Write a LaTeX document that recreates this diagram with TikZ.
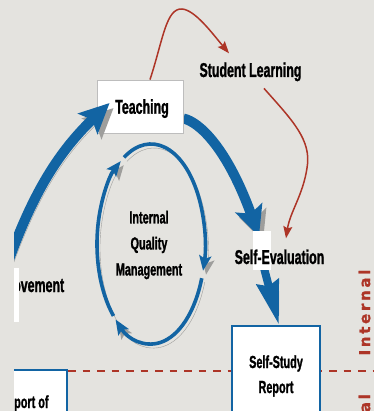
\documentclass[tikz,border=0pt]{standalone}
\usepackage{fontspec}
\usetikzlibrary{arrows.meta}
\usetikzlibrary{calc}
\newfontfamily\slidefont[FakeStretch=0.62,FakeBold=1.2]{Liberation Sans}
\newfontfamily\sidefont[LetterSpace=18,FakeBold=1]{DejaVu Sans}
\definecolor{QAblue}{HTML}{1264A3}
\definecolor{QAred}{HTML}{AD3527}
\definecolor{QApaper}{HTML}{E4E3DF}
\definecolor{QAshadow}{HTML}{9E9E9C}
\definecolor{QAframe}{HTML}{BDBDBD}
\pgfdeclarelayer{background}
\pgfsetlayers{background,main}

\tikzset{
  shadowed/.style={preaction={draw=QAshadow, transform canvas={shift={(#1)}}}},
  bigflow/.style={draw=QAblue, line width=10pt, -{Stealth[length=30pt,width=28pt,inset=6pt]}, shadowed={4,5}},
  ringflow/.style={draw=QAblue, line width=3.6pt, -{Stealth[length=15pt,width=12pt,inset=3pt]}, shadowed={3,4}},
  learnflow/.style={draw=QAred, line width=1.5pt, -{Stealth[length=12pt,width=9pt,inset=2pt]}},
  slidetext/.style={font=\slidefont\bfseries\fontsize{20pt}{24pt}\selectfont, inner sep=2pt},
  boxtext/.style={font=\slidefont\bfseries\fontsize{17.5pt}{#1}\selectfont, inner sep=2pt, align=center},
  flowbox/.style={draw=QAframe, line width=0.8pt, fill=white},
  studybox/.style={draw=QAblue, line width=2pt, fill=white},
  sidelabel/.style={font=\sidefont\bfseries\fontsize{15pt}{18pt}\selectfont, text=QAred, inner sep=0pt, rotate=90}
}

\begin{document}
\begin{tikzpicture}[x=1pt,y=-1pt]
\useasboundingbox (0,0) rectangle (374,411);

\begin{scope}
\clip (14,0) rectangle (374,411);

% Boxes and labels
\node (teaching) [flowbox, slidetext, text depth=0pt, minimum width=86pt, minimum height=53pt] at (140,106.5) {\hspace*{4pt}Teaching};
\node (learning) [slidetext, anchor=base] at (250.5,77) {Student Learning};
\node (selfeval) [slidetext, anchor=base] at (279.5,264) {Self-Evaluation};
\node (iqm) [boxtext=26pt] at (149,245) {Internal\\Quality\\Management};
\node (selfstudy) [studybox, boxtext=25pt, anchor=north, minimum width=88pt, minimum height=100pt] at (276,325) {Self-Study\\Report};
\node (reportbox) [studybox, anchor=north east, minimum width=70pt, minimum height=60pt] at (68,369) {};
\node (reportof) [boxtext=20pt, anchor=base west, inner sep=0pt] at (14,408) {port of};
\node (improvement) [slidetext, anchor=base west, inner sep=0pt] at (13,292) {ovement};
\fill[white] (14,268) rectangle (19,322);

% Side labels
\node (internal) [sidelabel] at (364.5,312.5) {Internal};
\node (external) [sidelabel, anchor=east] at (364.5,394) {al};

% Improvement to Teaching
\coordinate (flowstart) at (6,268);
\draw[bigflow] (flowstart) .. controls (30,200) and (55,155) .. ([xshift=13pt,yshift=3.5pt]teaching.west);

% Student learning loop
\draw[learnflow] ([xshift=10pt]teaching.north) .. controls (163,40) and (166,8) .. (182,9) .. controls (195,10) and (212,33) .. ([xshift=-21.5pt,yshift=7pt]learning.north);
\draw[learnflow] ([xshift=13.5pt,yshift=-5pt]learning.south) .. controls (292,120) and (312,140) .. (307,168) .. controls (303,195) and (290,212) .. ([xshift=6.5pt,yshift=9pt]selfeval.north);
\end{scope}

\begin{pgfonlayer}{background}
\fill[QApaper] (0,0) rectangle (374,411);
\begin{scope}
\clip (14,0) rectangle (374,411);

% Internal / external line
\draw[QAred, line width=2.5pt, dash pattern=on 7.5pt off 7pt] (68,371) -- (374,371);

% Quality management cycle
\coordinate (iqcentre) at (151,244);
\draw[ringflow] ($(iqcentre)+(134:54 and 100)$) arc[start angle=134, end angle=236, x radius=54, y radius=100];
\draw[ringflow] ($(iqcentre)+(240:54 and 100)$) arc[start angle=240, end angle=375.5, x radius=54, y radius=100];
\draw[ringflow] ($(iqcentre)+(20:54 and 100)$) arc[start angle=20, end angle=131, x radius=54, y radius=100];

% Teaching to report
\draw[bigflow] ([yshift=-12pt]teaching.east) .. controls (200,122) and (228,150) .. ([xshift=-20.5pt,yshift=11pt]selfeval.north);
\draw[bigflow, line width=8pt, -{Stealth[length=44pt,width=22pt,inset=4pt]}] ([xshift=-17pt,yshift=4pt]selfeval.south) -- ([xshift=3pt]selfstudy.north);
\fill[white] (253,231) rectangle (271,270);
\end{scope}
\end{pgfonlayer}

\end{tikzpicture}
\end{document}
